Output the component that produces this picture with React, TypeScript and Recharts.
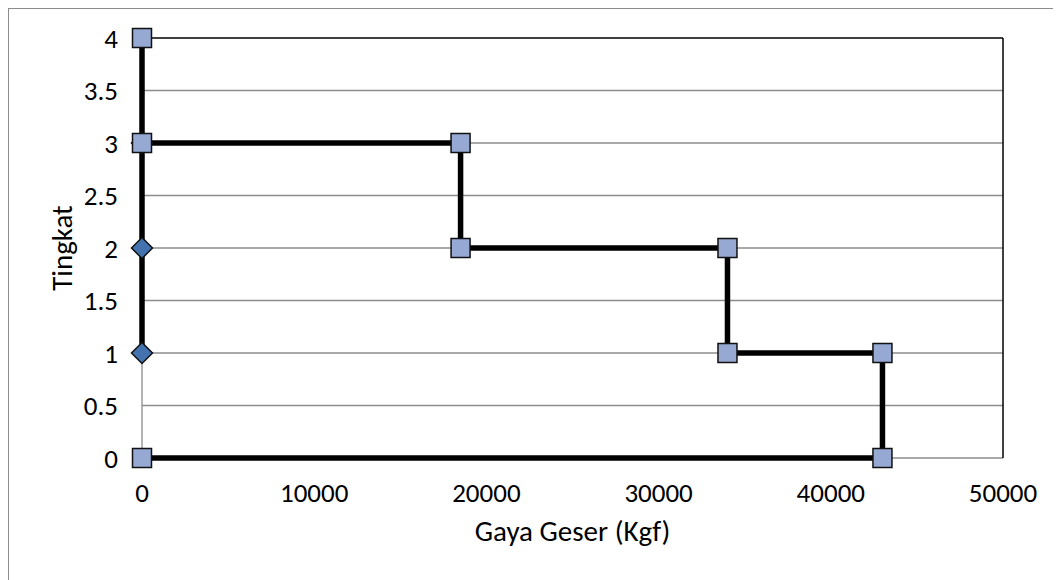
import React from "react";
import { ComposedChart, Line, XAxis, YAxis, CartesianGrid } from "recharts";

// Storey shear force diagram (Gaya Geser per Tingkat)
const shearX = [0, 0, 18500, 18500, 34000, 34000, 43000, 43000, 0];
const storeyY = [4, 3, 3, 2, 2, 1, 1, 0, 0];

const baseX = [0, 0, 0];
const baseY = [3, 2, 1];

const xTicks = [0, 10000, 20000, 30000, 40000, 50000];
const yTicks = [0, 0.5, 1, 1.5, 2, 2.5, 3, 3.5, 4];

const stepData = shearX.map((x, i) => ({ x, y: storeyY[i] }));
const baseData = baseX.map((x, i) => ({ x, y: baseY[i] }));

const FONT = "Carlito, Calibri, Lato, 'Open Sans', sans-serif";
const GRID = "#8c8c8c";

const SquareDot = (props: any) => {
  const { cx, cy, index } = props;
  if (cx == null || cy == null) return <g key={`s-${index}`} />;
  const s = 19;
  return (
    <rect
      key={`s-${index}`}
      x={cx - s / 2}
      y={cy - s / 2}
      width={s}
      height={s}
      fill="#95a9d3"
      stroke="#111"
      strokeWidth={1.5}
    />
  );
};

const DiamondDot = (props: any) => {
  const { cx, cy, index } = props;
  if (cx == null || cy == null) return <g key={`d-${index}`} />;
  const r = 10.5;
  return (
    <polygon
      key={`d-${index}`}
      points={`${cx},${cy - r} ${cx + r},${cy} ${cx},${cy + r} ${cx - r},${cy}`}
      fill="#4472ae"
      stroke="#111"
      strokeWidth={1.5}
    />
  );
};

const XTitle = (props: any) => {
  const vb = props.viewBox;
  return (
    <text
      x={vb.x + vb.width / 2}
      y={vb.y + 83}
      textAnchor="middle"
      fontFamily={FONT}
      fontSize={29}
      fill="#000"
    >
      Gaya Geser (Kgf)
    </text>
  );
};

const YTitle = (props: any) => {
  const vb = props.viewBox;
  const cx = 53;
  const cy = vb.y + vb.height / 2;
  return (
    <text
      x={cx}
      y={cy}
      transform={`rotate(-90, ${cx}, ${cy})`}
      textAnchor="middle"
      dominantBaseline="central"
      fontFamily={FONT}
      fontSize={29}
      fill="#000"
    >
      Tingkat
    </text>
  );
};

export default function App() {
  return (
    <div
      style={{
        position: "relative",
        width: 1053,
        height: 572,
        borderLeft: `1px solid ${GRID}`,
        borderTop: `1px solid ${GRID}`,
        background: "#fff",
      }}
    >
      <ComposedChart
        width={1052}
        height={571}
        margin={{ top: 29, right: 58, left: 20, bottom: 0 }}
        style={{ fontFamily: FONT }}
      >
        {/* horizontal gridlines, including the baseline at 0 */}
        <CartesianGrid
          vertical={false}
          horizontalValues={[0, 0.5, 1, 1.5, 2, 2.5, 3, 3.5]}
          stroke={GRID}
          strokeWidth={1.3}
        />
        {/* left value axis line */}
        <CartesianGrid
          horizontal={false}
          verticalValues={[0]}
          stroke={GRID}
          strokeWidth={1.3}
        />
        {/* plot-area frame on top and right */}
        <CartesianGrid
          vertical={false}
          horizontalValues={[4]}
          stroke="#000"
          strokeWidth={1.5}
        />
        <CartesianGrid
          horizontal={false}
          verticalValues={[50000]}
          stroke="#000"
          strokeWidth={1.5}
        />
        <XAxis
          type="number"
          dataKey="x"
          domain={[0, 50000]}
          ticks={xTicks}
          interval={0}
          tickLine={false}
          tickSize={0}
          tickMargin={25}
          height={122}
          axisLine={false}
          tick={{ fill: "#000", fontSize: 27, fontFamily: FONT }}
          label={{ content: XTitle }}
        />
        <YAxis
          type="number"
          dataKey="y"
          domain={[0, 4]}
          ticks={yTicks}
          interval={0}
          tickLine={false}
          tickSize={0}
          tickMargin={24}
          width={113}
          axisLine={false}
          tick={{ fill: "#000", fontSize: 27, fontFamily: FONT }}
          label={{ content: YTitle }}
        />
        <Line
          data={baseData}
          dataKey="y"
          type="linear"
          stroke="#000"
          strokeWidth={5.5}
          dot={DiamondDot}
          activeDot={false}
          isAnimationActive={false}
        />
        <Line
          data={stepData}
          dataKey="y"
          type="linear"
          stroke="#000"
          strokeWidth={5.5}
          dot={SquareDot}
          activeDot={false}
          isAnimationActive={false}
        />
      </ComposedChart>
    </div>
  );
}
